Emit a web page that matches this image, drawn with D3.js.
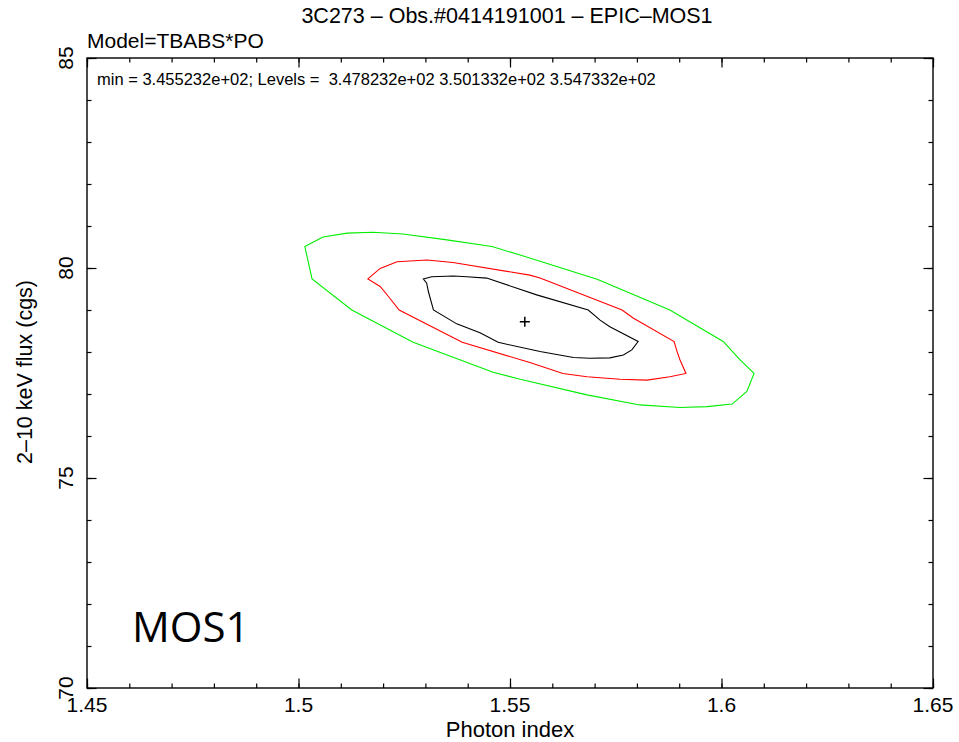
<!DOCTYPE html>
<html>
<head>
<meta charset="utf-8">
<script src="https://cdn.jsdelivr.net/npm/d3@7"></script>
<style>
    body { margin: 0; background: #fff; }
    svg { display: block; }
    text { font-family: "Liberation Sans", Arial, sans-serif; fill: #000; white-space: pre; }
</style>
</head>
<body>
<div id="chart"></div>
<script>
const xTicks = [1.45, 1.5, 1.55, 1.6, 1.65];
const yTicks = [70, 75, 80, 85];
const title = "3C273 \u2013 Obs.#0414191001 \u2013 EPIC\u2013MOS1";
const modelLabel = "Model=TBABS*PO";
const levelsLabel = "min = 3.455232e+02; Levels =  3.478232e+02 3.501332e+02 3.547332e+02";

// contour at 3.547332e+02 (green)
const greenContour = [
    [1.5015, 80.51], [1.5058, 80.74], [1.5115, 80.83], [1.5176, 80.85], [1.5247, 80.81],
    [1.5351, 80.67], [1.5457, 80.51], [1.5524, 80.31], [1.5706, 79.73], [1.5878, 79.0],
    [1.6004, 78.25], [1.6044, 77.81], [1.6077, 77.49], [1.6060, 77.06], [1.6025, 76.76],
    [1.5966, 76.70], [1.5902, 76.68], [1.5807, 76.74], [1.5682, 76.98], [1.5524, 77.35],
    [1.5460, 77.52], [1.5271, 78.23], [1.5126, 79.0], [1.5032, 79.74]
];

// contour at 3.501332e+02 (red)
const redContour = [
    [1.5164, 79.74], [1.5193, 79.99], [1.5233, 80.15], [1.5304, 80.19], [1.5365, 80.13],
    [1.5547, 79.83], [1.5571, 79.76], [1.5765, 79.0], [1.5791, 78.81], [1.5888, 78.25],
    [1.5895, 78.01], [1.5902, 77.81], [1.5916, 77.49], [1.5878, 77.41], [1.5824, 77.33],
    [1.5760, 77.35], [1.5682, 77.41], [1.5625, 77.49], [1.5547, 77.75], [1.5387, 78.23],
    [1.5238, 79.0], [1.5216, 79.28], [1.5193, 79.56]
];

// contour at 3.478232e+02 (black)
const blackContour = [
    [1.5295, 79.74], [1.5315, 79.79], [1.5366, 79.81], [1.5398, 79.79], [1.5445, 79.76],
    [1.5563, 79.36], [1.5685, 79.0], [1.5713, 78.76], [1.5736, 78.60], [1.5803, 78.25],
    [1.5788, 78.05], [1.5768, 77.93], [1.5736, 77.86], [1.5689, 77.85], [1.5650, 77.87],
    [1.5571, 78.01], [1.5472, 78.23], [1.5429, 78.46], [1.5374, 78.67], [1.5319, 79.0],
    [1.5307, 79.44], [1.5303, 79.64]
];

const bestFit = [1.5535, 78.72];

const contours = [
    { points: greenContour, color: "#00ee00" },
    { points: redContour, color: "#ff0000" },
    { points: blackContour, color: "#000000" }
];

const margin = { top: 58, right: 26, bottom: 54, left: 87 };
const fullWidth = 959;
const fullHeight = 742;
const width = fullWidth - margin.left - margin.right;
const height = fullHeight - margin.top - margin.bottom;

const svg = d3
    .select("#chart")
    .append("svg")
    .attr("width", fullWidth)
    .attr("height", fullHeight);

const plot = svg.append("g").attr("transform", `translate(${margin.left}, ${margin.top})`);

const xScale = d3.scaleLinear().domain([1.45, 1.65]).range([0, width]);
const yScale = d3.scaleLinear().domain([70, 85]).range([height, 0]);

// contours
const line = d3
    .line()
    .x(d => xScale(d[0]))
    .y(d => yScale(d[1]))
    .curve(d3.curveLinearClosed);

plot.selectAll("path.contour")
    .data(contours)
    .enter()
    .append("path")
    .attr("class", "contour")
    .attr("d", d => line(d.points))
    .attr("fill", "none")
    .attr("stroke", d => d.color)
    .attr("stroke-width", 1.1);

// best fit cross
const cx = xScale(bestFit[0]);
const cy = yScale(bestFit[1]);
plot.append("path")
    .attr("d", `M${cx - 5},${cy}H${cx + 5}M${cx},${cy - 5}V${cy + 5}`)
    .attr("stroke", "#000")
    .attr("stroke-width", 1.5);

// ticks on all four sides, pointing inward
function tickAxes(axisFn, scale, majors, minorCount, transform) {
    plot.append("g")
        .attr("transform", transform)
        .call(axisFn(scale).tickValues(scale.ticks(minorCount)).tickSize(-4.5).tickFormat(""))
        .call(g => g.select(".domain").remove());
    plot.append("g")
        .attr("transform", transform)
        .call(axisFn(scale).tickValues(majors).tickSize(-9.5).tickFormat(""))
        .call(g => g.select(".domain").remove());
}

tickAxes(d3.axisBottom, xScale, xTicks, 20, `translate(0, ${height})`);
tickAxes(d3.axisTop, xScale, xTicks, 20, "translate(0, 0)");
tickAxes(d3.axisLeft, yScale, yTicks, 15, "translate(0, 0)");
tickAxes(d3.axisRight, yScale, yTicks, 15, `translate(${width}, 0)`);

plot.selectAll(".tick line").attr("stroke", "#000").attr("stroke-width", 1.2);

// frame
plot.append("rect")
    .attr("width", width)
    .attr("height", height)
    .attr("fill", "none")
    .attr("stroke", "#000")
    .attr("stroke-width", 1.4);

// tick labels
plot.selectAll("text.xlab")
    .data(xTicks)
    .enter()
    .append("text")
    .attr("x", d => xScale(d))
    .attr("y", height + 24)
    .attr("text-anchor", "middle")
    .style("font-size", "21px")
    .text(d => d);

plot.selectAll("text.ylab")
    .data(yTicks)
    .enter()
    .append("text")
    .attr("transform", d => `translate(-14, ${yScale(d)}) rotate(-90)`)
    .attr("text-anchor", "middle")
    .style("font-size", "21px")
    .text(d => d);

// titles
svg.append("text")
    .attr("x", 507)
    .attr("y", 23)
    .attr("text-anchor", "middle")
    .style("font-size", "21.5px")
    .text(title);

svg.append("text")
    .attr("x", 87)
    .attr("y", 48)
    .style("font-size", "21px")
    .text(modelLabel);

svg.append("text")
    .attr("x", 97)
    .attr("y", 85)
    .style("font-size", "16.5px")
    .text(levelsLabel);

svg.append("text")
    .attr("x", 510)
    .attr("y", 737)
    .attr("text-anchor", "middle")
    .style("font-size", "22px")
    .text("Photon index");

svg.append("text")
    .attr("transform", "translate(32, 372) rotate(-90)")
    .attr("text-anchor", "middle")
    .style("font-size", "21.5px")
    .text("2\u201310 keV flux (cgs)");

svg.append("text")
    .attr("x", 132)
    .attr("y", 642)
    .style("font-family", "'Open Sans', sans-serif")
    .style("font-size", "42px")
    .text("MOS1");
</script>
</body>
</html>
